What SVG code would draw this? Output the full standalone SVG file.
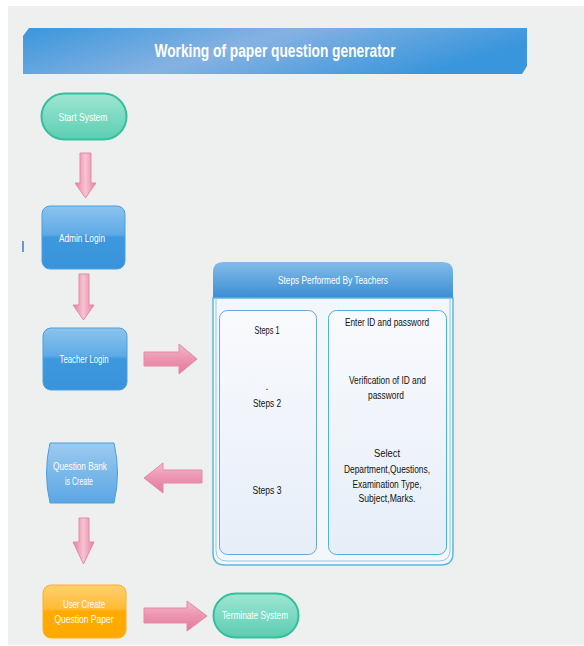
<svg xmlns="http://www.w3.org/2000/svg" width="584" height="646" viewBox="0 0 584 646">
<defs>
<linearGradient id="gTitle" x1="0" y1="0" x2="1" y2="0.3">
<stop offset="0" stop-color="#3a96dc"/><stop offset="0.5" stop-color="#86b2e2"/><stop offset="1" stop-color="#3a96dc"/>
</linearGradient>
<linearGradient id="gTeal" x1="0" y1="0" x2="0" y2="1">
<stop offset="0" stop-color="#9ee6d4"/><stop offset="1" stop-color="#5ccdb1"/>
</linearGradient>
<linearGradient id="gBlue" x1="0" y1="0" x2="0" y2="1">
<stop offset="0" stop-color="#8cc4ee"/><stop offset="0.45" stop-color="#5eaae6"/><stop offset="0.5" stop-color="#3d98de"/><stop offset="1" stop-color="#3a93da"/>
</linearGradient>
<linearGradient id="gQB" x1="0" y1="0" x2="0" y2="1">
<stop offset="0" stop-color="#9ccbf0"/><stop offset="1" stop-color="#5aa6e4"/>
</linearGradient>
<linearGradient id="gOrange" x1="0" y1="0" x2="0" y2="1">
<stop offset="0" stop-color="#ffd070"/><stop offset="0.45" stop-color="#ffbb33"/><stop offset="0.5" stop-color="#ffaa00"/><stop offset="1" stop-color="#ffaa00"/>
</linearGradient>
<linearGradient id="gPinkV" x1="0" y1="0" x2="1" y2="0">
<stop offset="0" stop-color="#e7809f"/><stop offset="0.5" stop-color="#f7c3d2"/><stop offset="1" stop-color="#e7809f"/>
</linearGradient>
<linearGradient id="gPinkH" x1="0" y1="0" x2="0" y2="1">
<stop offset="0" stop-color="#f5b8ca"/><stop offset="0.5" stop-color="#ec94b0"/><stop offset="1" stop-color="#e47a9b"/>
</linearGradient>
<linearGradient id="gHead" x1="0" y1="0" x2="0" y2="1">
<stop offset="0" stop-color="#84bbe8"/><stop offset="1" stop-color="#3a8ed4"/>
</linearGradient>
<linearGradient id="gInner" x1="0" y1="0" x2="0" y2="1">
<stop offset="0" stop-color="#f9fafd"/><stop offset="1" stop-color="#e6eef8"/>
</linearGradient>
</defs>
<style>
.t{font-family:"Liberation Sans",Arial,sans-serif;text-anchor:middle}
.w{fill:#ffffff;font-size:10.5px}
.b{fill:#111111;font-size:10.5px}
.arr{stroke:#e58aa8;stroke-width:1}
</style>
<rect x="0" y="0" width="584" height="646" fill="#ffffff"/>
<rect x="8" y="6" width="576" height="639" fill="#eef0ef"/>
<line x1="23" y1="241" x2="23" y2="252" stroke="#3a7cc0" stroke-width="1.5"/>

<g id="title">
<path d="M29,28 H527 V66 L522,74 H23 V36 Z" fill="url(#gTitle)"/>
<text class="t" x="275" y="57" fill="#ffffff" font-size="19" font-weight="bold" textLength="241" lengthAdjust="spacingAndGlyphs">Working of paper question generator</text>
</g>

<g id="connectors">
<polygon class="arr" fill="url(#gPinkV)" points="80,153 91,153 91,183 96,183 85.5,198 75,183 80,183"/>
<polygon class="arr" fill="url(#gPinkV)" points="79,274 89,274 89,305 94,305 83.5,320 73,305 79,305"/>
<polygon class="arr" fill="url(#gPinkV)" points="79,518 89,518 89,542 94,542 83.5,564 73,542 79,542"/>
<polygon class="arr" fill="url(#gPinkH)" points="144,352 179,352 179,344 197,359 179,374 179,366 144,366"/>
<polygon class="arr" fill="url(#gPinkH)" points="202,470 163,470 163,463 144,478 163,493 163,483 202,483"/>
<polygon class="arr" fill="url(#gPinkH)" points="144,608 187,608 187,601 207,616 187,631 187,623 144,623"/>
</g>

<g id="start">
<rect x="41.5" y="93.5" width="85" height="46" rx="23" fill="url(#gTeal)" stroke="#36bf9c" stroke-width="2"/>
<text class="t w" x="83" y="121" textLength="49" lengthAdjust="spacingAndGlyphs">Start System</text>
</g>

<g id="admin">
<rect x="42" y="206" width="83" height="63" rx="8" fill="url(#gBlue)" stroke="#4aa0e0" stroke-width="1"/>
<text class="t w" x="82" y="242" textLength="46" lengthAdjust="spacingAndGlyphs">Admin Login</text>
</g>

<g id="teacher">
<rect x="43" y="328" width="84" height="62" rx="8" fill="url(#gBlue)" stroke="#4aa0e0" stroke-width="1"/>
<text class="t w" x="84" y="363" textLength="49" lengthAdjust="spacingAndGlyphs">Teacher Login</text>
</g>

<g id="qbank">
<path d="M50,443 H114 Q121,473 114,503 H50 Q43,473 50,443 Z" fill="url(#gQB)" stroke="#4a9ee0" stroke-width="1"/>
<text class="t w" x="80" y="470" textLength="54" lengthAdjust="spacingAndGlyphs">Question Bank</text>
<text class="t w" x="79" y="485" textLength="28" lengthAdjust="spacingAndGlyphs">is Create</text>
</g>

<g id="user">
<rect x="43" y="585" width="83" height="53" rx="8" fill="url(#gOrange)" stroke="#ffb020" stroke-width="1"/>
<text class="t w" x="84" y="608" textLength="42" lengthAdjust="spacingAndGlyphs">User Create</text>
<text class="t w" x="84" y="623" textLength="59" lengthAdjust="spacingAndGlyphs">Question Paper</text>
</g>

<g id="terminate">
<rect x="213.5" y="593.5" width="85" height="44" rx="22" fill="url(#gTeal)" stroke="#36bf9c" stroke-width="2"/>
<text class="t w" x="255" y="619" textLength="66" lengthAdjust="spacingAndGlyphs">Terminate System</text>
</g>

<g id="steps">
<path d="M213,298 V272 Q213,262 223,262 H443 Q453,262 453,272 V298 Z" fill="url(#gHead)"/>
<text class="t w" x="333" y="284" textLength="110" lengthAdjust="spacingAndGlyphs">Steps Performed By Teachers</text>
<path d="M213,298 H453 V553 Q453,565 441,565 H225 Q213,565 213,553 Z" fill="#f3f6fb" stroke="#5cb6e0" stroke-width="1.5"/>
<path d="M216,298 V550 Q216,561 227,561 H439 Q450,561 450,550 V298" fill="none" stroke="#8fcbe8" stroke-width="1"/>
<rect x="219.5" y="310.5" width="97" height="244" rx="8" fill="url(#gInner)" stroke="#6aa6dc" stroke-width="1"/>
<rect x="328.5" y="310.5" width="118" height="244" rx="8" fill="url(#gInner)" stroke="#4ab2dc" stroke-width="1"/>
<text class="t b" x="267" y="334" textLength="25" lengthAdjust="spacingAndGlyphs">Steps 1</text>
<text class="t b" x="267" y="390">.</text>
<text class="t b" x="267" y="407" textLength="28" lengthAdjust="spacingAndGlyphs">Steps 2</text>
<text class="t b" x="267" y="494" textLength="29" lengthAdjust="spacingAndGlyphs">Steps 3</text>
<text class="t b" x="387" y="326" textLength="84" lengthAdjust="spacingAndGlyphs">Enter ID and password</text>
<text class="t b" x="387.5" y="384" textLength="77" lengthAdjust="spacingAndGlyphs">Verification of ID and</text>
<text class="t b" x="386" y="399" textLength="36" lengthAdjust="spacingAndGlyphs">password</text>
<text class="t b" x="387" y="457" textLength="26" lengthAdjust="spacingAndGlyphs">Select</text>
<text class="t b" x="387" y="473" textLength="86" lengthAdjust="spacingAndGlyphs">Department,Questions,</text>
<text class="t b" x="387" y="488" textLength="69" lengthAdjust="spacingAndGlyphs">Examination Type,</text>
<text class="t b" x="387" y="502" textLength="57" lengthAdjust="spacingAndGlyphs">Subject,Marks.</text>
</g>
</svg>
